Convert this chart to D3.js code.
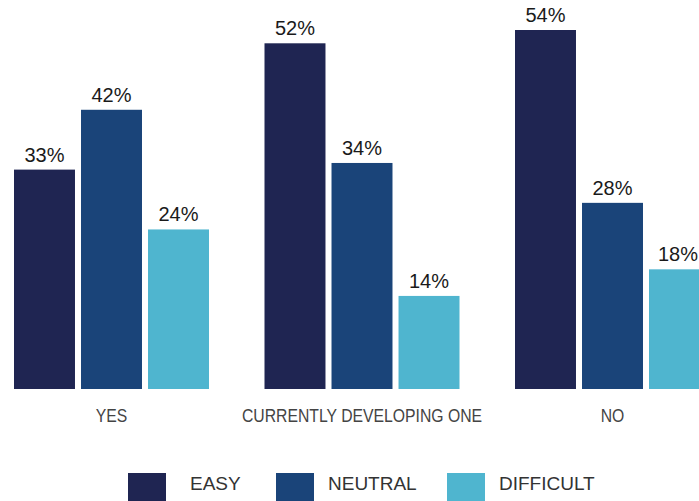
<!DOCTYPE html>
<html>
<head>
<meta charset="utf-8">
<script src="https://cdn.jsdelivr.net/npm/d3@7/dist/d3.min.js"></script>
<style>
  html, body { margin: 0; padding: 0; background: #ffffff; }
  svg { display: block; }
</style>
</head>
<body>
<div id="chart"></div>
<script>
// Answers grouped by category, one bar per difficulty rating
const categories = ["YES", "CURRENTLY DEVELOPING ONE", "NO"];
const seriesNames = ["EASY", "NEUTRAL", "DIFFICULT"];
const easyValues = [33, 52, 54];
const neutralValues = [42, 34, 28];
const difficultValues = [24, 14, 18];
const seriesColors = ["#1f2552", "#1a4479", "#4fb5cf"];

const seriesValues = [easyValues, neutralValues, difficultValues];
const rows = categories.map((c, i) => ({
  category: c,
  values: seriesNames.map((s, j) => ({ series: s, value: seriesValues[j][i] }))
}));

const width = 699, height = 501;
const baseY = 389, topY = 30;

const svg = d3.select("#chart").append("svg")
  .attr("width", width)
  .attr("height", height);

// Group scale: three bands 195px wide, 250.5px apart, first starting at x=14
const groupStep = 250.5, groupWidth = 195;
const pIn = (groupStep - groupWidth) / groupStep;
const startX = 14 - groupStep * pIn / 2;
const x0 = d3.scaleBand()
  .domain(categories)
  .range([startX, startX + groupStep * categories.length])
  .paddingInner(pIn)
  .paddingOuter(pIn / 2);

const x1 = d3.scaleBand()
  .domain(seriesNames)
  .range([0, x0.bandwidth()])
  .paddingInner(0.09)
  .paddingOuter(0);

const y = d3.scaleLinear()
  .domain([0, 54])
  .range([baseY, topY]);

const color = d3.scaleOrdinal().domain(seriesNames).range(seriesColors);

const groups = svg.append("g").selectAll("g")
  .data(rows)
  .join("g")
  .attr("transform", d => `translate(${x0(d.category)},0)`);

groups.selectAll("rect")
  .data(d => d.values)
  .join("rect")
  .attr("x", d => x1(d.series))
  .attr("y", d => y(d.value))
  .attr("width", x1.bandwidth())
  .attr("height", d => y(0) - y(d.value))
  .attr("fill", d => color(d.series));

groups.selectAll("text.value")
  .data(d => d.values)
  .join("text")
  .attr("class", "value")
  .attr("x", d => x1(d.series) + x1.bandwidth() / 2)
  .attr("y", d => y(d.value) - 8)
  .attr("text-anchor", "middle")
  .attr("font-family", "'Liberation Sans', Arial, sans-serif")
  .attr("font-size", 20)
  .attr("fill", "#1a1a1a")
  .text(d => d.value + "%")
  .each(function (d) {
    // keep labels inside the right edge of the canvas
    const g = this.parentNode.transform.baseVal.consolidate();
    const gx = g ? g.matrix.e : 0;
    const cx = +this.getAttribute("x");
    const w = this.getComputedTextLength();
    const over = gx + cx + w / 2 - (width - 1);
    if (over > 0) this.setAttribute("x", cx - over);
  });

// Category axis (labels only, no line or ticks), drawn in a narrow face
const xAxis = svg.append("g")
  .attr("transform", `translate(0,${baseY})`)
  .call(d3.axisBottom(x0).tickSize(0).tickPadding(33));
xAxis.select(".domain").remove();
xAxis.selectAll("text")
  .attr("dy", null)
  .attr("y", 33)
  .attr("transform", "scale(0.83,1)")
  .attr("font-family", "'Liberation Sans', Arial, sans-serif")
  .attr("font-size", 19)
  .attr("fill", "#444444");

// Legend
const legendSwatchX = [128, 276, 447];
const legendTextX = [190, 328, 499];
const legend = svg.append("g").selectAll("g")
  .data(seriesNames)
  .join("g");
legend.append("rect")
  .attr("x", (d, i) => legendSwatchX[i])
  .attr("y", 473)
  .attr("width", 38)
  .attr("height", 28)
  .attr("fill", d => color(d));
legend.append("text")
  .attr("x", (d, i) => legendTextX[i])
  .attr("y", 490)
  .attr("font-family", "'Liberation Sans', Arial, sans-serif")
  .attr("font-size", 19)
  .attr("fill", "#333333")
  .text(d => d);
</script>
</body>
</html>
